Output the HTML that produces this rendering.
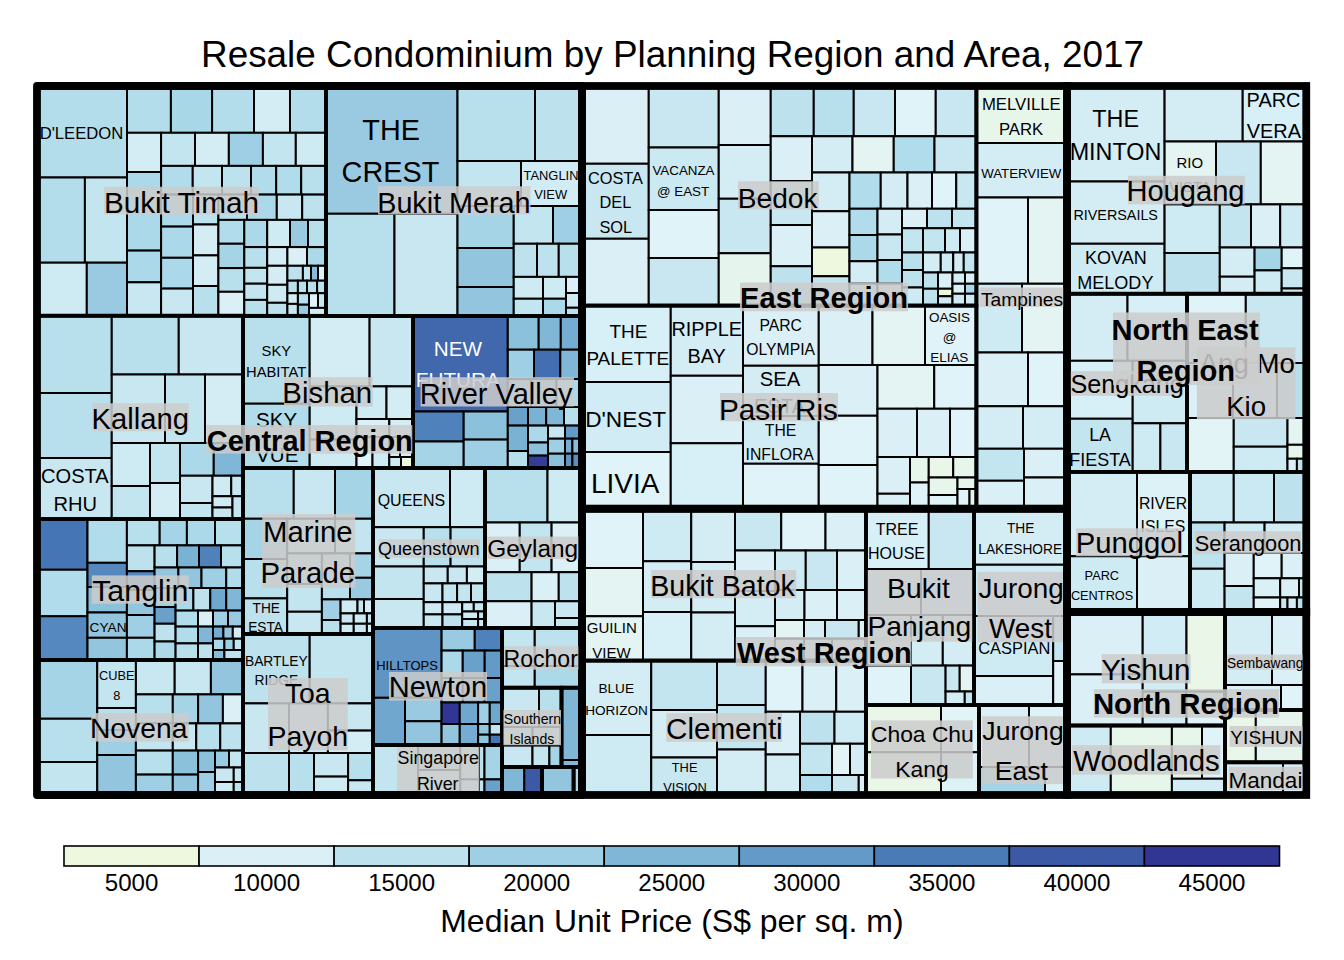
<!DOCTYPE html>
<html><head><meta charset="utf-8"><title>Resale Condominium by Planning Region and Area, 2017</title>
<style>html,body{margin:0;padding:0;background:#fff}body{width:1344px;height:960px;position:relative;overflow:hidden;font-family:"Liberation Sans",sans-serif}
svg text{font-family:"Liberation Sans",sans-serif}</style></head><body>
<svg width="1344" height="960" viewBox="0 0 1344 960" style="position:absolute;left:0;top:0">
<g stroke="#000" stroke-width="2">
<rect x="37.00" y="86.00" width="90.00" height="91.50" fill="#b4ddec"/>
<rect x="37.00" y="177.50" width="47.90" height="85.20" fill="#b4ddec"/>
<rect x="84.90" y="177.50" width="42.10" height="85.20" fill="#c3e5f0"/>
<rect x="37.00" y="262.70" width="49.80" height="53.10" fill="#ceeaf3"/>
<rect x="86.80" y="262.70" width="40.20" height="53.10" fill="#99cae1"/>
<rect x="127.00" y="86.00" width="43.90" height="46.80" fill="#b4ddec"/>
<rect x="170.90" y="86.00" width="41.20" height="46.80" fill="#a8d7e8"/>
<rect x="212.10" y="86.00" width="41.90" height="46.80" fill="#b4ddec"/>
<rect x="254.00" y="86.00" width="36.00" height="46.80" fill="#d4edf5"/>
<rect x="290.00" y="86.00" width="36.00" height="46.80" fill="#b4ddec"/>
<rect x="127.00" y="132.80" width="34.10" height="39.20" fill="#d4edf5"/>
<rect x="127.00" y="172.00" width="34.10" height="78.60" fill="#abd9e9"/>
<rect x="127.00" y="250.60" width="34.10" height="31.70" fill="#abd9e9"/>
<rect x="127.00" y="282.30" width="34.10" height="33.50" fill="#c8e7f1"/>
<rect x="161.10" y="132.80" width="33.90" height="33.10" fill="#c3e5f0"/>
<rect x="195.00" y="132.80" width="33.85" height="33.10" fill="#d4edf5"/>
<rect x="228.85" y="132.80" width="34.05" height="33.10" fill="#9fcfe4"/>
<rect x="262.90" y="132.80" width="32.90" height="33.10" fill="#c3e5f0"/>
<rect x="295.80" y="132.80" width="30.20" height="33.10" fill="#ceeaf3"/>
<rect x="161.10" y="165.90" width="31.65" height="28.70" fill="#b1dceb"/>
<rect x="192.75" y="165.90" width="29.25" height="28.70" fill="#c3e5f0"/>
<rect x="222.00" y="165.90" width="29.00" height="28.70" fill="#bde2ee"/>
<rect x="251.00" y="165.90" width="25.20" height="28.70" fill="#b1dceb"/>
<rect x="276.20" y="165.90" width="25.00" height="28.70" fill="#b1dceb"/>
<rect x="301.20" y="165.90" width="24.80" height="28.70" fill="#b7dfec"/>
<rect x="161.10" y="194.60" width="31.90" height="32.00" fill="#abd9e9"/>
<rect x="161.10" y="226.60" width="31.90" height="31.20" fill="#abd9e9"/>
<rect x="161.10" y="257.80" width="31.90" height="30.80" fill="#abd9e9"/>
<rect x="161.10" y="288.60" width="31.90" height="27.20" fill="#c8e7f1"/>
<rect x="193.00" y="194.60" width="25.40" height="29.90" fill="#bde2ee"/>
<rect x="193.00" y="224.50" width="25.40" height="30.90" fill="#d4edf5"/>
<rect x="193.00" y="255.40" width="25.40" height="30.60" fill="#d4edf5"/>
<rect x="193.00" y="286.00" width="25.40" height="29.80" fill="#b7dfec"/>
<rect x="218.40" y="194.60" width="28.60" height="25.30" fill="#b7dfec"/>
<rect x="247.00" y="194.60" width="29.80" height="25.30" fill="#abd9e9"/>
<rect x="276.80" y="194.60" width="25.40" height="25.30" fill="#c8e7f1"/>
<rect x="302.20" y="194.60" width="23.80" height="25.30" fill="#bde2ee"/>
<rect x="218.40" y="219.90" width="25.90" height="23.85" fill="#b1dceb"/>
<rect x="218.40" y="243.75" width="25.90" height="24.35" fill="#a5d4e6"/>
<rect x="218.40" y="268.10" width="25.90" height="23.70" fill="#b7dfec"/>
<rect x="218.40" y="291.80" width="25.90" height="24.00" fill="#daf0f6"/>
<rect x="244.30" y="219.90" width="22.90" height="27.20" fill="#abd9e9"/>
<rect x="267.20" y="219.90" width="22.80" height="27.20" fill="#ceeaf3"/>
<rect x="290.00" y="219.90" width="18.00" height="27.20" fill="#99cae1"/>
<rect x="308.00" y="219.90" width="18.00" height="27.20" fill="#b7dfec"/>
<rect x="244.30" y="247.10" width="22.90" height="20.75" fill="#b7dfec"/>
<rect x="244.30" y="267.85" width="22.90" height="15.85" fill="#c3e5f0"/>
<rect x="244.30" y="283.70" width="22.90" height="16.20" fill="#c3e5f0"/>
<rect x="244.30" y="299.90" width="22.90" height="15.90" fill="#b7dfec"/>
<rect x="267.20" y="247.10" width="20.20" height="18.70" fill="#d4edf5"/>
<rect x="267.20" y="265.80" width="20.20" height="19.00" fill="#d4edf5"/>
<rect x="267.20" y="284.80" width="20.20" height="18.00" fill="#ceeaf3"/>
<rect x="267.20" y="302.80" width="20.20" height="13.00" fill="#bde2ee"/>
<rect x="287.40" y="247.10" width="19.60" height="18.70" fill="#daf0f6"/>
<rect x="307.00" y="247.10" width="19.00" height="18.70" fill="#abd9e9"/>
<rect x="287.40" y="265.80" width="15.50" height="14.90" fill="#bde2ee"/>
<rect x="302.90" y="265.80" width="8.10" height="14.90" fill="#c3e5f0"/>
<rect x="311.00" y="265.80" width="7.00" height="14.90" fill="#86bcd9"/>
<rect x="318.00" y="265.80" width="8.00" height="14.90" fill="#e0f3f8"/>
<rect x="287.40" y="280.70" width="10.50" height="12.50" fill="#b7dfec"/>
<rect x="297.90" y="280.70" width="9.10" height="12.50" fill="#b7dfec"/>
<rect x="307.00" y="280.70" width="10.10" height="12.50" fill="#b7dfec"/>
<rect x="317.10" y="280.70" width="8.90" height="12.50" fill="#bde2ee"/>
<rect x="287.40" y="293.20" width="10.50" height="10.70" fill="#d4edf5"/>
<rect x="287.40" y="303.90" width="10.50" height="11.90" fill="#c8e7f1"/>
<rect x="297.90" y="293.20" width="11.10" height="11.50" fill="#b7dfec"/>
<rect x="297.90" y="304.70" width="11.10" height="11.10" fill="#99cae1"/>
<rect x="309.00" y="293.20" width="9.00" height="14.70" fill="#e0f3f8"/>
<rect x="318.00" y="293.20" width="8.00" height="14.70" fill="#c8e7f1"/>
<rect x="309.00" y="307.90" width="17.00" height="7.90" fill="#d4edf5"/>
<rect x="326.00" y="86.00" width="131.50" height="127.75" fill="#99cae1"/>
<rect x="326.00" y="213.75" width="68.50" height="102.25" fill="#b7dfec"/>
<rect x="394.50" y="213.75" width="63.00" height="102.25" fill="#c8e7f1"/>
<rect x="457.50" y="86.00" width="77.50" height="75.00" fill="#b7dfec"/>
<rect x="535.00" y="86.00" width="47.00" height="75.00" fill="#bde2ee"/>
<rect x="457.50" y="161.00" width="63.50" height="45.00" fill="#c3e5f0"/>
<rect x="521.00" y="161.00" width="61.00" height="45.00" fill="#d1ecf4"/>
<rect x="457.50" y="206.00" width="56.25" height="42.00" fill="#a5d4e6"/>
<rect x="457.50" y="248.00" width="56.25" height="39.00" fill="#93c5de"/>
<rect x="457.50" y="287.00" width="56.25" height="29.00" fill="#93c5de"/>
<rect x="513.75" y="206.00" width="39.25" height="37.75" fill="#c3e5f0"/>
<rect x="553.00" y="206.00" width="29.00" height="37.75" fill="#9fcfe4"/>
<rect x="513.75" y="243.75" width="23.25" height="33.15" fill="#bde2ee"/>
<rect x="537.00" y="243.75" width="21.75" height="33.15" fill="#bde2ee"/>
<rect x="558.75" y="243.75" width="23.25" height="33.15" fill="#b7dfec"/>
<rect x="513.75" y="276.90" width="29.25" height="21.85" fill="#ceeaf3"/>
<rect x="513.75" y="298.75" width="29.25" height="17.25" fill="#c3e5f0"/>
<rect x="543.00" y="276.90" width="23.00" height="21.85" fill="#ceeaf3"/>
<rect x="543.00" y="298.75" width="23.00" height="17.25" fill="#abd9e9"/>
<rect x="566.00" y="276.90" width="16.00" height="16.10" fill="#daf0f6"/>
<rect x="566.00" y="293.00" width="16.00" height="14.75" fill="#ceeaf3"/>
<rect x="566.00" y="307.75" width="16.00" height="8.25" fill="#b7dfec"/>
<rect x="37.00" y="315.70" width="74.75" height="77.30" fill="#b7dfec"/>
<rect x="37.00" y="393.00" width="74.75" height="65.00" fill="#b7dfec"/>
<rect x="37.00" y="458.00" width="74.75" height="61.00" fill="#c8e7f1"/>
<rect x="111.75" y="315.70" width="67.00" height="58.80" fill="#b7dfec"/>
<rect x="178.75" y="315.70" width="64.25" height="58.80" fill="#c8e7f1"/>
<rect x="111.75" y="374.50" width="53.25" height="68.50" fill="#c8e7f1"/>
<rect x="165.00" y="374.50" width="40.00" height="68.50" fill="#c3e5f0"/>
<rect x="205.00" y="374.50" width="38.00" height="68.50" fill="#d4edf5"/>
<rect x="111.75" y="443.00" width="38.25" height="43.00" fill="#ceeaf3"/>
<rect x="111.75" y="486.00" width="38.25" height="33.00" fill="#c3e5f0"/>
<rect x="150.00" y="443.00" width="30.00" height="40.00" fill="#c3e5f0"/>
<rect x="150.00" y="483.00" width="30.00" height="36.00" fill="#d4edf5"/>
<rect x="180.00" y="443.00" width="33.75" height="32.75" fill="#abd9e9"/>
<rect x="213.75" y="443.00" width="29.25" height="32.75" fill="#80b7d6"/>
<rect x="180.00" y="475.75" width="32.50" height="27.25" fill="#c8e7f1"/>
<rect x="180.00" y="503.00" width="32.50" height="16.00" fill="#c3e5f0"/>
<rect x="212.50" y="475.75" width="18.75" height="20.50" fill="#ceeaf3"/>
<rect x="231.25" y="475.75" width="11.75" height="20.50" fill="#c8e7f1"/>
<rect x="212.50" y="496.25" width="20.00" height="11.25" fill="#ceeaf3"/>
<rect x="212.50" y="507.50" width="20.00" height="11.50" fill="#c8e7f1"/>
<rect x="232.50" y="496.25" width="10.50" height="22.75" fill="#c3e5f0"/>
<rect x="243.00" y="316.00" width="66.70" height="87.70" fill="#b7dfec"/>
<rect x="243.00" y="403.70" width="66.70" height="64.30" fill="#b1dceb"/>
<rect x="309.70" y="316.00" width="59.90" height="70.40" fill="#d4edf5"/>
<rect x="369.60" y="316.00" width="43.40" height="70.40" fill="#c8e7f1"/>
<rect x="309.70" y="386.40" width="46.80" height="53.20" fill="#ceeaf3"/>
<rect x="309.70" y="439.60" width="46.80" height="28.40" fill="#ceeaf3"/>
<rect x="356.50" y="386.40" width="30.00" height="32.60" fill="#ceeaf3"/>
<rect x="386.50" y="386.40" width="26.50" height="32.60" fill="#d4edf5"/>
<rect x="356.50" y="419.00" width="32.80" height="18.00" fill="#daf0f6"/>
<rect x="389.30" y="419.00" width="23.70" height="18.00" fill="#d4edf5"/>
<rect x="356.50" y="437.00" width="16.00" height="31.00" fill="#e0f3f8"/>
<rect x="372.50" y="437.00" width="16.80" height="31.00" fill="#ceeaf3"/>
<rect x="389.30" y="437.00" width="10.70" height="20.00" fill="#ceeaf3"/>
<rect x="400.00" y="437.00" width="13.00" height="20.00" fill="#d4edf5"/>
<rect x="389.30" y="457.00" width="11.70" height="11.00" fill="#ceeaf3"/>
<rect x="401.00" y="457.00" width="12.00" height="11.00" fill="#eef8df"/>
<rect x="413.00" y="316.00" width="94.80" height="95.50" fill="#4167ad"/>
<rect x="413.00" y="411.50" width="50.70" height="30.00" fill="#4f81ba"/>
<rect x="413.00" y="441.50" width="50.70" height="26.50" fill="#a5d4e6"/>
<rect x="463.70" y="411.50" width="44.10" height="28.10" fill="#8cc1dc"/>
<rect x="463.70" y="439.60" width="44.10" height="28.40" fill="#9fcfe4"/>
<rect x="507.80" y="316.00" width="30.90" height="33.70" fill="#8cc1dc"/>
<rect x="538.70" y="316.00" width="22.10" height="33.70" fill="#80b7d6"/>
<rect x="560.80" y="316.00" width="21.20" height="33.70" fill="#74add1"/>
<rect x="507.80" y="349.70" width="26.20" height="29.30" fill="#9fcfe4"/>
<rect x="534.00" y="349.70" width="26.30" height="29.30" fill="#436eb1"/>
<rect x="560.30" y="349.70" width="21.70" height="29.30" fill="#80b7d6"/>
<rect x="507.80" y="379.00" width="23.20" height="28.00" fill="#93c5de"/>
<rect x="531.00" y="379.00" width="25.50" height="28.00" fill="#86bcd9"/>
<rect x="556.50" y="379.00" width="25.50" height="28.00" fill="#abd9e9"/>
<rect x="507.80" y="407.00" width="20.20" height="18.60" fill="#6aa1cb"/>
<rect x="528.00" y="407.00" width="18.20" height="18.60" fill="#7ab2d4"/>
<rect x="546.20" y="407.00" width="17.80" height="18.60" fill="#80b7d6"/>
<rect x="564.00" y="407.00" width="18.00" height="18.60" fill="#b7dfec"/>
<rect x="507.80" y="425.60" width="20.20" height="25.40" fill="#7ab2d4"/>
<rect x="507.80" y="451.00" width="20.20" height="17.00" fill="#b7dfec"/>
<rect x="528.00" y="425.60" width="20.00" height="16.90" fill="#abd9e9"/>
<rect x="528.00" y="442.50" width="20.00" height="13.10" fill="#8cc1dc"/>
<rect x="528.00" y="455.60" width="20.00" height="12.40" fill="#333d98"/>
<rect x="548.00" y="425.60" width="17.00" height="13.10" fill="#c8e7f1"/>
<rect x="548.00" y="438.70" width="17.00" height="15.00" fill="#9fcfe4"/>
<rect x="548.00" y="453.70" width="17.00" height="14.30" fill="#8cc1dc"/>
<rect x="565.00" y="425.60" width="17.00" height="13.10" fill="#649ac7"/>
<rect x="565.00" y="438.70" width="7.40" height="15.00" fill="#74add1"/>
<rect x="572.40" y="438.70" width="9.60" height="15.00" fill="#86bcd9"/>
<rect x="565.00" y="453.70" width="7.40" height="14.30" fill="#5f94c4"/>
<rect x="572.40" y="453.70" width="9.60" height="14.30" fill="#5a8ec1"/>
<rect x="37.00" y="519.00" width="50.50" height="50.75" fill="#4575b4"/>
<rect x="37.00" y="569.75" width="50.50" height="46.50" fill="#b1dceb"/>
<rect x="37.00" y="616.25" width="50.50" height="43.75" fill="#5588be"/>
<rect x="87.50" y="519.00" width="39.40" height="43.80" fill="#b1dceb"/>
<rect x="87.50" y="562.80" width="39.40" height="24.20" fill="#5588be"/>
<rect x="87.50" y="587.00" width="39.40" height="25.50" fill="#8cc1dc"/>
<rect x="87.50" y="612.50" width="39.40" height="25.30" fill="#93c5de"/>
<rect x="87.50" y="637.80" width="39.40" height="22.20" fill="#93c5de"/>
<rect x="126.90" y="519.00" width="32.80" height="26.40" fill="#b7dfec"/>
<rect x="159.70" y="519.00" width="27.20" height="26.40" fill="#a5d4e6"/>
<rect x="186.90" y="519.00" width="28.10" height="26.40" fill="#abd9e9"/>
<rect x="215.00" y="519.00" width="28.00" height="26.40" fill="#b7dfec"/>
<rect x="126.90" y="545.40" width="27.70" height="25.85" fill="#bde2ee"/>
<rect x="126.90" y="571.25" width="27.70" height="18.75" fill="#5588be"/>
<rect x="126.90" y="590.00" width="27.70" height="25.00" fill="#93c5de"/>
<rect x="126.90" y="615.00" width="27.70" height="22.80" fill="#9fcfe4"/>
<rect x="126.90" y="637.80" width="27.70" height="22.20" fill="#abd9e9"/>
<rect x="154.60" y="545.40" width="22.50" height="22.10" fill="#b7dfec"/>
<rect x="177.10" y="545.40" width="21.90" height="22.10" fill="#7ab2d4"/>
<rect x="199.00" y="545.40" width="22.00" height="22.10" fill="#4f81ba"/>
<rect x="221.00" y="545.40" width="22.00" height="22.10" fill="#b7dfec"/>
<rect x="154.60" y="567.50" width="23.80" height="20.50" fill="#93c5de"/>
<rect x="178.40" y="567.50" width="23.10" height="20.50" fill="#93c5de"/>
<rect x="201.50" y="567.50" width="24.75" height="20.50" fill="#9fcfe4"/>
<rect x="226.25" y="567.50" width="16.75" height="20.50" fill="#b1dceb"/>
<rect x="154.60" y="588.00" width="21.00" height="19.00" fill="#9fcfe4"/>
<rect x="154.60" y="607.00" width="21.00" height="16.75" fill="#6aa1cb"/>
<rect x="154.60" y="623.75" width="21.00" height="17.75" fill="#bde2ee"/>
<rect x="154.60" y="641.50" width="21.00" height="18.50" fill="#abd9e9"/>
<rect x="175.60" y="588.00" width="17.80" height="22.60" fill="#abd9e9"/>
<rect x="193.40" y="588.00" width="16.90" height="22.60" fill="#bde2ee"/>
<rect x="210.30" y="588.00" width="15.95" height="22.60" fill="#6fa7ce"/>
<rect x="226.25" y="588.00" width="16.75" height="22.60" fill="#80b7d6"/>
<rect x="175.60" y="610.60" width="22.40" height="16.00" fill="#b1dceb"/>
<rect x="198.00" y="610.60" width="15.00" height="16.00" fill="#daf0f6"/>
<rect x="213.00" y="610.60" width="15.00" height="16.00" fill="#9fcfe4"/>
<rect x="228.00" y="610.60" width="15.00" height="16.00" fill="#99cae1"/>
<rect x="175.60" y="626.60" width="22.40" height="16.80" fill="#b1dceb"/>
<rect x="175.60" y="643.40" width="22.40" height="16.60" fill="#b7dfec"/>
<rect x="198.00" y="626.60" width="15.00" height="16.80" fill="#80b7d6"/>
<rect x="198.00" y="643.40" width="15.00" height="16.60" fill="#bde2ee"/>
<rect x="213.00" y="626.60" width="10.40" height="12.15" fill="#74add1"/>
<rect x="223.40" y="626.60" width="9.40" height="12.15" fill="#93c5de"/>
<rect x="232.80" y="626.60" width="10.20" height="12.15" fill="#d4edf5"/>
<rect x="213.00" y="638.75" width="11.40" height="11.25" fill="#abd9e9"/>
<rect x="224.40" y="638.75" width="9.35" height="11.25" fill="#9fcfe4"/>
<rect x="233.75" y="638.75" width="9.25" height="11.25" fill="#c3e5f0"/>
<rect x="213.00" y="650.00" width="11.40" height="10.00" fill="#86bcd9"/>
<rect x="224.40" y="650.00" width="18.60" height="10.00" fill="#bde2ee"/>
<rect x="37.00" y="660.00" width="60.25" height="58.75" fill="#a5d4e6"/>
<rect x="37.00" y="718.75" width="60.25" height="43.25" fill="#b7dfec"/>
<rect x="37.00" y="762.00" width="60.25" height="33.00" fill="#c3e5f0"/>
<rect x="97.25" y="660.00" width="38.65" height="48.00" fill="#c3e5f0"/>
<rect x="97.25" y="708.00" width="38.65" height="22.00" fill="#b7dfec"/>
<rect x="97.25" y="730.00" width="38.65" height="25.00" fill="#9fcfe4"/>
<rect x="97.25" y="755.00" width="38.65" height="40.00" fill="#93c5de"/>
<rect x="135.90" y="660.00" width="38.80" height="34.40" fill="#c8e7f1"/>
<rect x="174.70" y="660.00" width="36.20" height="34.40" fill="#c8e7f1"/>
<rect x="210.90" y="660.00" width="32.10" height="34.40" fill="#93c5de"/>
<rect x="135.90" y="694.40" width="36.90" height="29.00" fill="#b7dfec"/>
<rect x="172.80" y="694.40" width="25.30" height="29.00" fill="#a5d4e6"/>
<rect x="198.10" y="694.40" width="24.80" height="29.00" fill="#93c5de"/>
<rect x="222.90" y="694.40" width="20.10" height="29.00" fill="#daf0f6"/>
<rect x="135.90" y="723.40" width="36.90" height="27.20" fill="#c3e5f0"/>
<rect x="172.80" y="723.40" width="23.45" height="27.20" fill="#c8e7f1"/>
<rect x="196.25" y="723.40" width="24.00" height="27.20" fill="#b7dfec"/>
<rect x="220.25" y="723.40" width="22.75" height="27.20" fill="#bde2ee"/>
<rect x="135.90" y="750.60" width="36.90" height="24.00" fill="#b7dfec"/>
<rect x="135.90" y="774.60" width="36.90" height="20.40" fill="#9fcfe4"/>
<rect x="172.80" y="750.60" width="25.30" height="24.00" fill="#8cc1dc"/>
<rect x="172.80" y="774.60" width="25.30" height="20.40" fill="#93c5de"/>
<rect x="198.10" y="750.60" width="16.90" height="21.40" fill="#8cc1dc"/>
<rect x="198.10" y="772.00" width="16.90" height="23.00" fill="#9fcfe4"/>
<rect x="215.00" y="750.60" width="14.00" height="16.90" fill="#99cae1"/>
<rect x="229.00" y="750.60" width="14.00" height="16.90" fill="#c3e5f0"/>
<rect x="215.00" y="767.50" width="18.75" height="14.50" fill="#c8e7f1"/>
<rect x="233.75" y="767.50" width="9.25" height="14.50" fill="#c8e7f1"/>
<rect x="215.00" y="782.00" width="18.75" height="13.00" fill="#ceeaf3"/>
<rect x="233.75" y="782.00" width="9.25" height="13.00" fill="#bde2ee"/>
<rect x="243.00" y="468.00" width="50.75" height="50.75" fill="#b7dfec"/>
<rect x="293.75" y="468.00" width="41.25" height="50.75" fill="#c8e7f1"/>
<rect x="335.00" y="468.00" width="38.00" height="50.75" fill="#a5d4e6"/>
<rect x="243.00" y="518.75" width="44.20" height="40.25" fill="#a5d4e6"/>
<rect x="243.00" y="559.00" width="44.20" height="39.40" fill="#b7dfec"/>
<rect x="243.00" y="598.40" width="44.20" height="35.60" fill="#bde2ee"/>
<rect x="287.20" y="518.75" width="47.80" height="34.65" fill="#c3e5f0"/>
<rect x="335.00" y="518.75" width="38.00" height="34.65" fill="#c3e5f0"/>
<rect x="287.20" y="553.40" width="34.70" height="30.60" fill="#bde2ee"/>
<rect x="287.20" y="584.00" width="34.70" height="27.75" fill="#c3e5f0"/>
<rect x="287.20" y="611.75" width="34.70" height="22.25" fill="#c8e7f1"/>
<rect x="321.90" y="553.40" width="28.10" height="46.00" fill="#b7dfec"/>
<rect x="350.00" y="553.40" width="23.00" height="24.40" fill="#a5d4e6"/>
<rect x="350.00" y="577.80" width="23.00" height="21.60" fill="#99cae1"/>
<rect x="321.90" y="599.40" width="18.70" height="20.60" fill="#9fcfe4"/>
<rect x="321.90" y="620.00" width="18.70" height="14.00" fill="#b7dfec"/>
<rect x="340.60" y="599.40" width="16.90" height="14.00" fill="#ceeaf3"/>
<rect x="357.50" y="599.40" width="6.50" height="14.00" fill="#c3e5f0"/>
<rect x="364.00" y="599.40" width="9.00" height="14.00" fill="#d4edf5"/>
<rect x="340.60" y="613.40" width="13.15" height="10.35" fill="#c8e7f1"/>
<rect x="353.75" y="613.40" width="13.15" height="10.35" fill="#ceeaf3"/>
<rect x="366.90" y="613.40" width="6.10" height="10.35" fill="#c3e5f0"/>
<rect x="340.60" y="623.75" width="13.15" height="10.25" fill="#ceeaf3"/>
<rect x="353.75" y="623.75" width="13.15" height="10.25" fill="#c8e7f1"/>
<rect x="366.90" y="623.75" width="6.10" height="10.25" fill="#d4edf5"/>
<rect x="373.00" y="468.00" width="77.00" height="59.20" fill="#c8e7f1"/>
<rect x="450.00" y="468.00" width="35.00" height="59.20" fill="#ceeaf3"/>
<rect x="373.00" y="527.20" width="50.75" height="39.30" fill="#c8e7f1"/>
<rect x="423.75" y="527.20" width="26.85" height="39.30" fill="#b7dfec"/>
<rect x="450.60" y="527.20" width="34.40" height="39.30" fill="#bde2ee"/>
<rect x="373.00" y="566.50" width="50.75" height="32.50" fill="#c3e5f0"/>
<rect x="373.00" y="599.00" width="50.75" height="29.00" fill="#c8e7f1"/>
<rect x="423.75" y="566.50" width="24.00" height="16.90" fill="#c8e7f1"/>
<rect x="447.75" y="566.50" width="19.15" height="16.90" fill="#c8e7f1"/>
<rect x="466.90" y="566.50" width="18.10" height="16.90" fill="#d4edf5"/>
<rect x="423.75" y="583.40" width="18.75" height="18.80" fill="#c8e7f1"/>
<rect x="442.50" y="583.40" width="14.60" height="18.80" fill="#c3e5f0"/>
<rect x="457.10" y="583.40" width="13.90" height="18.80" fill="#c3e5f0"/>
<rect x="471.00" y="583.40" width="14.00" height="18.80" fill="#c3e5f0"/>
<rect x="423.75" y="602.20" width="18.75" height="12.20" fill="#ceeaf3"/>
<rect x="423.75" y="614.40" width="18.75" height="13.60" fill="#c8e7f1"/>
<rect x="442.50" y="602.20" width="19.70" height="12.20" fill="#ceeaf3"/>
<rect x="442.50" y="614.40" width="19.70" height="13.60" fill="#bde2ee"/>
<rect x="462.20" y="602.20" width="11.60" height="9.30" fill="#ceeaf3"/>
<rect x="473.80" y="602.20" width="11.20" height="9.30" fill="#c8e7f1"/>
<rect x="462.20" y="611.50" width="15.90" height="7.50" fill="#ceeaf3"/>
<rect x="478.10" y="611.50" width="6.90" height="7.50" fill="#c3e5f0"/>
<rect x="462.20" y="619.00" width="15.90" height="9.00" fill="#c8e7f1"/>
<rect x="478.10" y="619.00" width="6.90" height="9.00" fill="#ceeaf3"/>
<rect x="485.00" y="468.00" width="62.50" height="54.50" fill="#b7dfec"/>
<rect x="547.50" y="468.00" width="34.50" height="54.50" fill="#ceeaf3"/>
<rect x="485.00" y="522.50" width="34.75" height="49.70" fill="#daf0f6"/>
<rect x="519.75" y="522.50" width="31.85" height="49.70" fill="#c3e5f0"/>
<rect x="551.60" y="522.50" width="30.40" height="49.70" fill="#daf0f6"/>
<rect x="485.00" y="572.20" width="46.60" height="29.05" fill="#bde2ee"/>
<rect x="531.60" y="572.20" width="27.15" height="29.05" fill="#daf0f6"/>
<rect x="558.75" y="572.20" width="23.25" height="29.05" fill="#bde2ee"/>
<rect x="485.00" y="601.25" width="46.60" height="26.75" fill="#daf0f6"/>
<rect x="531.60" y="601.25" width="23.40" height="26.75" fill="#c8e7f1"/>
<rect x="555.00" y="601.25" width="27.00" height="16.75" fill="#c8e7f1"/>
<rect x="555.00" y="618.00" width="27.00" height="10.00" fill="#c8e7f1"/>
<rect x="243.00" y="634.00" width="66.70" height="69.40" fill="#bde2ee"/>
<rect x="309.70" y="634.00" width="63.30" height="69.40" fill="#c3e5f0"/>
<rect x="243.00" y="703.40" width="46.00" height="49.60" fill="#c8e7f1"/>
<rect x="289.00" y="703.40" width="38.90" height="49.60" fill="#ceeaf3"/>
<rect x="327.90" y="703.40" width="45.10" height="27.20" fill="#c8e7f1"/>
<rect x="327.90" y="730.60" width="45.10" height="22.40" fill="#d4edf5"/>
<rect x="243.00" y="753.00" width="46.00" height="42.00" fill="#bde2ee"/>
<rect x="289.00" y="753.00" width="25.00" height="42.00" fill="#b7dfec"/>
<rect x="314.00" y="753.00" width="34.10" height="23.60" fill="#c8e7f1"/>
<rect x="314.00" y="776.60" width="34.10" height="18.40" fill="#ceeaf3"/>
<rect x="348.10" y="753.00" width="24.90" height="27.30" fill="#b7dfec"/>
<rect x="348.10" y="780.30" width="24.90" height="14.70" fill="#c8e7f1"/>
<rect x="373.00" y="628.00" width="68.60" height="69.80" fill="#5f94c4"/>
<rect x="373.00" y="697.80" width="32.00" height="47.20" fill="#6fa7ce"/>
<rect x="405.00" y="697.80" width="36.60" height="23.45" fill="#99cae1"/>
<rect x="405.00" y="721.25" width="36.60" height="23.75" fill="#93c5de"/>
<rect x="441.60" y="628.00" width="33.15" height="22.60" fill="#99cae1"/>
<rect x="474.75" y="628.00" width="27.25" height="22.60" fill="#4f81ba"/>
<rect x="441.60" y="650.60" width="21.15" height="27.40" fill="#abd9e9"/>
<rect x="462.75" y="650.60" width="21.95" height="27.40" fill="#6aa1cb"/>
<rect x="484.70" y="650.60" width="17.30" height="27.40" fill="#649ac7"/>
<rect x="441.60" y="678.00" width="21.15" height="24.50" fill="#93c5de"/>
<rect x="462.75" y="678.00" width="21.95" height="24.50" fill="#6fa7ce"/>
<rect x="484.70" y="678.00" width="17.30" height="24.50" fill="#6aa1cb"/>
<rect x="441.60" y="702.50" width="18.15" height="21.50" fill="#313695"/>
<rect x="441.60" y="724.00" width="18.15" height="21.00" fill="#93c5de"/>
<rect x="459.75" y="702.50" width="18.35" height="21.50" fill="#6fa7ce"/>
<rect x="459.75" y="724.00" width="18.35" height="21.00" fill="#74add1"/>
<rect x="478.10" y="702.50" width="11.65" height="21.50" fill="#9fcfe4"/>
<rect x="478.10" y="724.00" width="11.65" height="10.70" fill="#93c5de"/>
<rect x="478.10" y="734.70" width="11.65" height="10.30" fill="#93c5de"/>
<rect x="489.75" y="702.50" width="12.25" height="21.50" fill="#6fa7ce"/>
<rect x="489.75" y="724.00" width="12.25" height="10.70" fill="#c3e5f0"/>
<rect x="489.75" y="734.70" width="12.25" height="10.30" fill="#4575b4"/>
<rect x="373.00" y="745.00" width="45.10" height="50.00" fill="#c3e5f0"/>
<rect x="418.10" y="745.00" width="42.20" height="25.00" fill="#bde2ee"/>
<rect x="418.10" y="770.00" width="42.20" height="25.00" fill="#c3e5f0"/>
<rect x="460.30" y="745.00" width="18.70" height="34.40" fill="#c3e5f0"/>
<rect x="460.30" y="779.40" width="18.70" height="15.60" fill="#bde2ee"/>
<rect x="479.00" y="745.00" width="5.50" height="34.40" fill="#bde2ee"/>
<rect x="479.00" y="779.40" width="5.50" height="15.60" fill="#c3e5f0"/>
<rect x="484.50" y="745.00" width="17.50" height="34.40" fill="#a5d4e6"/>
<rect x="484.50" y="779.40" width="17.50" height="15.60" fill="#6aa1cb"/>
<rect x="502.00" y="628.00" width="32.75" height="38.00" fill="#c3e5f0"/>
<rect x="502.00" y="666.00" width="32.75" height="21.70" fill="#c3e5f0"/>
<rect x="534.75" y="628.00" width="47.25" height="38.00" fill="#bde2ee"/>
<rect x="534.75" y="666.00" width="47.25" height="21.70" fill="#abd9e9"/>
<rect x="502.00" y="687.70" width="37.00" height="39.30" fill="#c8e7f1"/>
<rect x="539.00" y="687.70" width="22.50" height="39.30" fill="#b7dfec"/>
<rect x="502.00" y="727.00" width="30.50" height="18.60" fill="#c3e5f0"/>
<rect x="532.50" y="727.00" width="29.00" height="18.60" fill="#bde2ee"/>
<rect x="502.00" y="745.60" width="30.50" height="21.40" fill="#c8e7f1"/>
<rect x="532.50" y="745.60" width="16.90" height="21.40" fill="#c3e5f0"/>
<rect x="549.40" y="745.60" width="12.10" height="21.40" fill="#a5d4e6"/>
<rect x="561.50" y="687.70" width="20.50" height="72.30" fill="#80b7d6"/>
<rect x="561.50" y="760.00" width="20.50" height="7.00" fill="#80b7d6"/>
<rect x="502.00" y="767.00" width="22.30" height="28.00" fill="#80b7d6"/>
<rect x="524.30" y="767.00" width="17.70" height="28.00" fill="#3c59a6"/>
<rect x="542.00" y="767.00" width="31.60" height="28.00" fill="#93c5de"/>
<rect x="573.60" y="767.00" width="8.40" height="28.00" fill="#abd9e9"/>
<rect x="582.00" y="86.00" width="66.75" height="77.75" fill="#daf0f6"/>
<rect x="582.00" y="163.75" width="66.75" height="75.00" fill="#c8e7f1"/>
<rect x="582.00" y="238.75" width="66.75" height="66.85" fill="#daf0f6"/>
<rect x="648.75" y="86.00" width="70.00" height="61.50" fill="#c8e7f1"/>
<rect x="648.75" y="147.50" width="70.00" height="62.50" fill="#cbe9f2"/>
<rect x="648.75" y="210.00" width="70.00" height="48.00" fill="#e0f3f8"/>
<rect x="648.75" y="258.00" width="70.00" height="47.60" fill="#c8e7f1"/>
<rect x="718.75" y="86.00" width="52.00" height="59.00" fill="#daf0f6"/>
<rect x="718.75" y="145.00" width="52.00" height="53.75" fill="#d4edf5"/>
<rect x="718.75" y="198.75" width="52.00" height="54.50" fill="#c8e7f1"/>
<rect x="718.75" y="253.25" width="52.00" height="52.35" fill="#e5f5ee"/>
<rect x="770.75" y="86.00" width="43.00" height="50.25" fill="#bde2ee"/>
<rect x="813.75" y="86.00" width="40.00" height="50.25" fill="#b7dfec"/>
<rect x="853.75" y="86.00" width="41.25" height="50.25" fill="#c8e7f1"/>
<rect x="895.00" y="86.00" width="40.75" height="50.25" fill="#e0f3f8"/>
<rect x="935.75" y="86.00" width="40.65" height="50.25" fill="#c8e7f1"/>
<rect x="770.75" y="136.25" width="41.25" height="44.75" fill="#daf0f6"/>
<rect x="770.75" y="181.00" width="41.25" height="44.00" fill="#c8e7f1"/>
<rect x="770.75" y="225.00" width="41.25" height="41.25" fill="#daf0f6"/>
<rect x="770.75" y="266.25" width="41.25" height="39.35" fill="#bde2ee"/>
<rect x="812.00" y="136.25" width="40.50" height="36.25" fill="#d4edf5"/>
<rect x="852.50" y="136.25" width="41.25" height="36.25" fill="#e3f4f2"/>
<rect x="893.75" y="136.25" width="40.75" height="36.25" fill="#b1dceb"/>
<rect x="934.50" y="136.25" width="41.90" height="36.25" fill="#c8e7f1"/>
<rect x="812.00" y="172.50" width="37.50" height="38.75" fill="#d4edf5"/>
<rect x="812.00" y="211.25" width="37.50" height="36.25" fill="#daf0f6"/>
<rect x="812.00" y="247.50" width="37.50" height="28.75" fill="#eef8df"/>
<rect x="812.00" y="276.25" width="37.50" height="29.35" fill="#c3e5f0"/>
<rect x="849.50" y="172.50" width="31.25" height="36.25" fill="#b1dceb"/>
<rect x="880.75" y="172.50" width="26.75" height="36.25" fill="#d4edf5"/>
<rect x="907.50" y="172.50" width="24.50" height="36.25" fill="#daf0f6"/>
<rect x="932.00" y="172.50" width="24.25" height="36.25" fill="#e0f3f8"/>
<rect x="956.25" y="172.50" width="20.15" height="36.25" fill="#c8e7f1"/>
<rect x="849.50" y="208.75" width="28.00" height="26.25" fill="#b1dceb"/>
<rect x="849.50" y="235.00" width="28.00" height="26.25" fill="#abd9e9"/>
<rect x="849.50" y="261.25" width="28.00" height="22.50" fill="#d4edf5"/>
<rect x="849.50" y="283.75" width="28.00" height="21.85" fill="#c8e7f1"/>
<rect x="877.50" y="208.75" width="24.50" height="25.75" fill="#d4edf5"/>
<rect x="877.50" y="234.50" width="24.50" height="25.50" fill="#c8e7f1"/>
<rect x="877.50" y="260.00" width="24.50" height="23.75" fill="#b1dceb"/>
<rect x="877.50" y="283.75" width="24.50" height="21.85" fill="#ceeaf3"/>
<rect x="902.00" y="208.75" width="25.00" height="19.50" fill="#daf0f6"/>
<rect x="927.00" y="208.75" width="25.00" height="19.50" fill="#bde2ee"/>
<rect x="952.00" y="208.75" width="24.40" height="19.50" fill="#c3e5f0"/>
<rect x="902.00" y="228.25" width="21.00" height="24.25" fill="#c3e5f0"/>
<rect x="923.00" y="228.25" width="22.00" height="24.25" fill="#c3e5f0"/>
<rect x="945.00" y="228.25" width="15.00" height="24.25" fill="#ceeaf3"/>
<rect x="960.00" y="228.25" width="16.40" height="24.25" fill="#daf0f6"/>
<rect x="902.00" y="252.50" width="21.00" height="17.50" fill="#b7dfec"/>
<rect x="902.00" y="270.00" width="21.00" height="17.50" fill="#bde2ee"/>
<rect x="902.00" y="287.50" width="21.00" height="18.10" fill="#ceeaf3"/>
<rect x="923.00" y="252.50" width="17.75" height="20.00" fill="#d4edf5"/>
<rect x="940.75" y="252.50" width="12.50" height="20.00" fill="#ceeaf3"/>
<rect x="953.25" y="252.50" width="10.50" height="20.00" fill="#d4edf5"/>
<rect x="963.75" y="252.50" width="12.65" height="20.00" fill="#c3e5f0"/>
<rect x="923.00" y="272.50" width="15.00" height="16.25" fill="#bde2ee"/>
<rect x="923.00" y="288.75" width="15.00" height="16.85" fill="#bde2ee"/>
<rect x="938.00" y="272.50" width="14.50" height="16.25" fill="#daf0f6"/>
<rect x="938.00" y="288.75" width="14.50" height="7.50" fill="#eef8df"/>
<rect x="938.00" y="296.25" width="14.50" height="9.35" fill="#ceeaf3"/>
<rect x="952.50" y="272.50" width="12.50" height="11.25" fill="#d4edf5"/>
<rect x="952.50" y="283.75" width="12.50" height="10.00" fill="#daf0f6"/>
<rect x="952.50" y="293.75" width="12.50" height="11.85" fill="#ceeaf3"/>
<rect x="965.00" y="272.50" width="11.40" height="11.25" fill="#daf0f6"/>
<rect x="965.00" y="283.75" width="11.40" height="10.00" fill="#abd9e9"/>
<rect x="965.00" y="293.75" width="11.40" height="11.85" fill="#ceeaf3"/>
<rect x="976.40" y="86.00" width="90.60" height="57.00" fill="#e7f6eb"/>
<rect x="976.40" y="143.00" width="90.60" height="54.50" fill="#d4edf5"/>
<rect x="976.40" y="197.50" width="51.60" height="86.25" fill="#e0f3f8"/>
<rect x="1028.00" y="197.50" width="39.00" height="86.25" fill="#e3f4f2"/>
<rect x="976.40" y="283.75" width="45.60" height="68.75" fill="#ceeaf3"/>
<rect x="1022.00" y="283.75" width="45.00" height="68.75" fill="#e3f4f2"/>
<rect x="976.40" y="352.50" width="51.60" height="53.75" fill="#daf0f6"/>
<rect x="1028.00" y="352.50" width="39.00" height="53.75" fill="#e0f3f8"/>
<rect x="976.40" y="406.25" width="46.60" height="42.50" fill="#d4edf5"/>
<rect x="1023.00" y="406.25" width="44.00" height="42.50" fill="#d4edf5"/>
<rect x="976.40" y="448.75" width="47.60" height="32.00" fill="#c3e5f0"/>
<rect x="976.40" y="480.75" width="47.60" height="28.00" fill="#daf0f6"/>
<rect x="1024.00" y="448.75" width="43.00" height="28.75" fill="#daf0f6"/>
<rect x="1024.00" y="477.50" width="43.00" height="31.25" fill="#daf0f6"/>
<rect x="582.00" y="305.60" width="88.75" height="76.40" fill="#d7eff6"/>
<rect x="582.00" y="382.00" width="88.75" height="70.00" fill="#d1ecf4"/>
<rect x="582.00" y="452.00" width="88.75" height="56.75" fill="#e0f3f8"/>
<rect x="670.75" y="305.60" width="72.25" height="70.15" fill="#d4edf5"/>
<rect x="670.75" y="375.75" width="72.25" height="67.50" fill="#daf0f6"/>
<rect x="670.75" y="443.25" width="72.25" height="65.50" fill="#d7eff6"/>
<rect x="743.00" y="305.60" width="75.75" height="60.15" fill="#daf0f6"/>
<rect x="743.00" y="365.75" width="75.75" height="50.25" fill="#d4edf5"/>
<rect x="743.00" y="416.00" width="75.75" height="47.75" fill="#d1ecf4"/>
<rect x="743.00" y="463.75" width="75.75" height="45.00" fill="#e0f3f8"/>
<rect x="818.75" y="305.60" width="53.75" height="59.40" fill="#daf0f6"/>
<rect x="872.50" y="305.60" width="52.50" height="59.40" fill="#e3f4f2"/>
<rect x="925.00" y="305.60" width="51.40" height="59.40" fill="#e0f3f8"/>
<rect x="818.75" y="365.00" width="58.75" height="50.75" fill="#daf0f6"/>
<rect x="818.75" y="415.75" width="58.75" height="49.25" fill="#e0f3f8"/>
<rect x="818.75" y="465.00" width="58.75" height="43.75" fill="#e0f3f8"/>
<rect x="877.50" y="365.00" width="56.75" height="43.75" fill="#e3f4f2"/>
<rect x="934.25" y="365.00" width="42.15" height="43.75" fill="#e0f3f8"/>
<rect x="877.50" y="408.75" width="39.50" height="48.25" fill="#daf0f6"/>
<rect x="917.00" y="408.75" width="33.00" height="48.25" fill="#daf0f6"/>
<rect x="950.00" y="408.75" width="26.40" height="48.25" fill="#e0f3f8"/>
<rect x="877.50" y="457.00" width="32.50" height="36.75" fill="#daf0f6"/>
<rect x="877.50" y="493.75" width="32.50" height="15.00" fill="#daf0f6"/>
<rect x="910.00" y="457.00" width="18.75" height="25.50" fill="#e7f6eb"/>
<rect x="910.00" y="482.50" width="18.75" height="26.25" fill="#e0f3f8"/>
<rect x="928.75" y="457.00" width="24.50" height="20.50" fill="#e9f6e8"/>
<rect x="953.25" y="457.00" width="23.15" height="20.50" fill="#e7f6eb"/>
<rect x="928.75" y="477.50" width="28.75" height="17.50" fill="#e7f6eb"/>
<rect x="928.75" y="495.00" width="28.75" height="13.75" fill="#e0f3f8"/>
<rect x="957.50" y="477.50" width="18.90" height="11.50" fill="#e7f6eb"/>
<rect x="957.50" y="489.00" width="12.00" height="19.75" fill="#e0f3f8"/>
<rect x="969.50" y="489.00" width="6.90" height="19.75" fill="#e3f4f2"/>
<rect x="582.00" y="508.75" width="61.00" height="59.25" fill="#e0f3f8"/>
<rect x="582.00" y="568.00" width="61.00" height="48.25" fill="#e3f4f2"/>
<rect x="582.00" y="616.25" width="61.00" height="44.35" fill="#e3f4f2"/>
<rect x="643.00" y="508.75" width="48.25" height="52.50" fill="#ceeaf3"/>
<rect x="643.00" y="561.25" width="48.25" height="50.75" fill="#d4edf5"/>
<rect x="643.00" y="612.00" width="48.25" height="48.60" fill="#d7eff6"/>
<rect x="691.25" y="508.75" width="43.75" height="53.25" fill="#d4edf5"/>
<rect x="691.25" y="562.00" width="43.75" height="50.50" fill="#d4edf5"/>
<rect x="691.25" y="612.50" width="43.75" height="48.10" fill="#d4edf5"/>
<rect x="735.00" y="508.75" width="46.25" height="41.75" fill="#c8e7f1"/>
<rect x="781.25" y="508.75" width="44.25" height="41.75" fill="#e0f3f8"/>
<rect x="825.50" y="508.75" width="40.50" height="41.75" fill="#daf0f6"/>
<rect x="735.00" y="550.50" width="40.00" height="40.50" fill="#daf0f6"/>
<rect x="735.00" y="591.00" width="40.00" height="35.25" fill="#d4edf5"/>
<rect x="735.00" y="626.25" width="40.00" height="34.35" fill="#daf0f6"/>
<rect x="775.00" y="550.50" width="30.75" height="39.50" fill="#ceeaf3"/>
<rect x="805.75" y="550.50" width="31.25" height="39.50" fill="#c8e7f1"/>
<rect x="837.00" y="550.50" width="29.00" height="39.50" fill="#daf0f6"/>
<rect x="775.00" y="590.00" width="29.50" height="30.00" fill="#d4edf5"/>
<rect x="804.50" y="590.00" width="32.50" height="30.00" fill="#daf0f6"/>
<rect x="837.00" y="590.00" width="29.00" height="30.00" fill="#daf0f6"/>
<rect x="775.00" y="620.00" width="29.00" height="18.75" fill="#e3f4f2"/>
<rect x="804.00" y="620.00" width="21.00" height="18.75" fill="#d4edf5"/>
<rect x="825.00" y="620.00" width="33.75" height="18.75" fill="#c8e7f1"/>
<rect x="858.75" y="620.00" width="7.25" height="18.75" fill="#daf0f6"/>
<rect x="775.00" y="638.75" width="29.00" height="21.85" fill="#e3f4f2"/>
<rect x="804.00" y="638.75" width="28.00" height="21.85" fill="#d4edf5"/>
<rect x="832.00" y="638.75" width="34.00" height="21.85" fill="#daf0f6"/>
<rect x="582.00" y="660.60" width="69.25" height="74.40" fill="#d4edf5"/>
<rect x="582.00" y="735.00" width="69.25" height="60.00" fill="#ceeaf3"/>
<rect x="651.25" y="660.60" width="65.75" height="49.40" fill="#c3e5f0"/>
<rect x="651.25" y="710.00" width="65.75" height="47.50" fill="#d4edf5"/>
<rect x="651.25" y="757.50" width="65.75" height="37.50" fill="#c8e7f1"/>
<rect x="717.00" y="660.60" width="48.75" height="44.40" fill="#c8e7f1"/>
<rect x="717.00" y="705.00" width="48.75" height="44.50" fill="#c3e5f0"/>
<rect x="717.00" y="749.50" width="48.75" height="45.50" fill="#d4edf5"/>
<rect x="765.75" y="660.60" width="36.75" height="51.15" fill="#e0f3f8"/>
<rect x="802.50" y="660.60" width="33.75" height="51.15" fill="#daf0f6"/>
<rect x="836.25" y="660.60" width="29.75" height="51.15" fill="#daf0f6"/>
<rect x="765.75" y="711.75" width="34.25" height="42.75" fill="#daf0f6"/>
<rect x="765.75" y="754.50" width="34.25" height="40.50" fill="#d4edf5"/>
<rect x="800.00" y="711.75" width="34.50" height="32.00" fill="#bde2ee"/>
<rect x="834.50" y="711.75" width="31.50" height="32.00" fill="#ceeaf3"/>
<rect x="800.00" y="743.75" width="32.00" height="31.25" fill="#c3e5f0"/>
<rect x="832.00" y="743.75" width="18.00" height="31.25" fill="#e2f4f5"/>
<rect x="850.00" y="743.75" width="16.00" height="31.25" fill="#d4edf5"/>
<rect x="800.00" y="775.00" width="32.00" height="20.00" fill="#b1dceb"/>
<rect x="832.00" y="775.00" width="26.75" height="20.00" fill="#c8e7f1"/>
<rect x="858.75" y="775.00" width="7.25" height="20.00" fill="#daf0f6"/>
<rect x="866.00" y="508.75" width="62.75" height="60.25" fill="#d7eff6"/>
<rect x="928.75" y="508.75" width="45.25" height="60.25" fill="#c8e7f1"/>
<rect x="866.00" y="569.00" width="55.00" height="46.00" fill="#d4edf5"/>
<rect x="921.00" y="569.00" width="53.00" height="46.00" fill="#ceeaf3"/>
<rect x="866.00" y="615.00" width="45.00" height="50.60" fill="#daf0f6"/>
<rect x="911.00" y="615.00" width="31.80" height="50.60" fill="#d4edf5"/>
<rect x="942.80" y="615.00" width="31.20" height="50.60" fill="#d4edf5"/>
<rect x="866.00" y="665.60" width="45.00" height="39.40" fill="#e0f3f8"/>
<rect x="911.00" y="665.60" width="34.60" height="39.40" fill="#c8e7f1"/>
<rect x="945.60" y="665.60" width="14.10" height="25.90" fill="#c8e7f1"/>
<rect x="959.70" y="665.60" width="14.30" height="25.90" fill="#e3f4f2"/>
<rect x="945.60" y="691.50" width="19.15" height="13.50" fill="#d4edf5"/>
<rect x="964.75" y="691.50" width="9.25" height="13.50" fill="#c3e5f0"/>
<rect x="974.00" y="508.75" width="93.00" height="56.00" fill="#d4edf5"/>
<rect x="974.00" y="564.75" width="93.00" height="51.25" fill="#ceeaf3"/>
<rect x="974.00" y="616.00" width="79.20" height="60.00" fill="#ceeaf3"/>
<rect x="974.00" y="676.00" width="79.20" height="29.00" fill="#daf0f6"/>
<rect x="1053.20" y="616.00" width="13.80" height="45.00" fill="#c3e5f0"/>
<rect x="1053.20" y="661.00" width="13.80" height="44.00" fill="#e0f3f8"/>
<rect x="866.00" y="705.00" width="75.00" height="47.25" fill="#e9f6e8"/>
<rect x="866.00" y="752.25" width="75.00" height="42.75" fill="#e9f6e8"/>
<rect x="941.00" y="705.00" width="38.00" height="47.25" fill="#e2f4f5"/>
<rect x="941.00" y="752.25" width="38.00" height="42.75" fill="#ddf2f7"/>
<rect x="979.00" y="705.00" width="50.00" height="62.00" fill="#daf0f6"/>
<rect x="1029.00" y="705.00" width="38.00" height="62.00" fill="#ddf2f7"/>
<rect x="979.00" y="767.00" width="66.00" height="28.00" fill="#a5d4e6"/>
<rect x="1045.00" y="767.00" width="22.00" height="28.00" fill="#daf0f6"/>
<rect x="1067.00" y="86.00" width="97.60" height="95.50" fill="#d4edf5"/>
<rect x="1067.00" y="181.50" width="97.60" height="62.25" fill="#d4edf5"/>
<rect x="1067.00" y="243.75" width="97.60" height="50.00" fill="#ceeaf3"/>
<rect x="1164.60" y="86.00" width="78.10" height="55.50" fill="#d4edf5"/>
<rect x="1242.70" y="86.00" width="63.55" height="55.50" fill="#d7eff6"/>
<rect x="1164.60" y="141.50" width="51.40" height="62.90" fill="#e3f4f2"/>
<rect x="1216.00" y="141.50" width="44.80" height="62.90" fill="#c8e7f1"/>
<rect x="1260.80" y="141.50" width="45.45" height="62.90" fill="#e3f4f2"/>
<rect x="1164.60" y="204.40" width="55.20" height="48.60" fill="#ceeaf3"/>
<rect x="1164.60" y="253.00" width="55.20" height="40.75" fill="#bde2ee"/>
<rect x="1219.80" y="204.40" width="31.20" height="43.10" fill="#c3e5f0"/>
<rect x="1251.00" y="204.40" width="29.20" height="43.10" fill="#daf0f6"/>
<rect x="1280.20" y="204.40" width="26.05" height="43.10" fill="#ceeaf3"/>
<rect x="1219.80" y="247.50" width="34.80" height="29.20" fill="#d4edf5"/>
<rect x="1219.80" y="276.70" width="34.80" height="17.05" fill="#d4edf5"/>
<rect x="1254.60" y="247.50" width="27.10" height="22.90" fill="#a5d4e6"/>
<rect x="1254.60" y="270.40" width="27.10" height="23.35" fill="#ceeaf3"/>
<rect x="1281.70" y="247.50" width="24.55" height="20.80" fill="#e0f3f8"/>
<rect x="1281.70" y="268.30" width="24.55" height="20.20" fill="#c8e7f1"/>
<rect x="1281.70" y="288.50" width="24.55" height="5.25" fill="#c8e7f1"/>
<rect x="1067.00" y="293.75" width="60.50" height="67.05" fill="#d4edf5"/>
<rect x="1127.50" y="293.75" width="59.50" height="67.05" fill="#d7eff6"/>
<rect x="1067.00" y="360.80" width="65.70" height="57.95" fill="#d7eff6"/>
<rect x="1067.00" y="418.75" width="65.70" height="53.15" fill="#c3e5f0"/>
<rect x="1132.70" y="360.80" width="54.30" height="62.50" fill="#ceeaf3"/>
<rect x="1132.70" y="423.30" width="27.70" height="48.60" fill="#ceeaf3"/>
<rect x="1160.40" y="423.30" width="26.60" height="48.60" fill="#c8e7f1"/>
<rect x="1187.00" y="293.75" width="58.80" height="69.25" fill="#e0f3f8"/>
<rect x="1245.80" y="293.75" width="60.45" height="69.25" fill="#c8e7f1"/>
<rect x="1187.00" y="363.00" width="46.00" height="55.00" fill="#daf0f6"/>
<rect x="1233.00" y="363.00" width="44.00" height="55.00" fill="#ceeaf3"/>
<rect x="1277.00" y="363.00" width="29.25" height="55.00" fill="#b7dfec"/>
<rect x="1187.00" y="418.00" width="46.75" height="53.90" fill="#e2f4f5"/>
<rect x="1233.75" y="418.00" width="53.75" height="28.70" fill="#c8e7f1"/>
<rect x="1233.75" y="446.70" width="53.75" height="25.20" fill="#ceeaf3"/>
<rect x="1287.50" y="418.00" width="18.75" height="26.80" fill="#e3f4f2"/>
<rect x="1287.50" y="444.80" width="18.75" height="13.95" fill="#e7f6eb"/>
<rect x="1287.50" y="458.75" width="9.40" height="13.15" fill="#daf0f6"/>
<rect x="1296.90" y="458.75" width="9.35" height="13.15" fill="#bde2ee"/>
<rect x="1067.00" y="471.90" width="70.00" height="84.35" fill="#d4edf5"/>
<rect x="1067.00" y="556.25" width="70.00" height="55.75" fill="#ceeaf3"/>
<rect x="1137.00" y="471.90" width="53.00" height="84.35" fill="#ddf2f7"/>
<rect x="1137.00" y="556.25" width="53.00" height="55.75" fill="#daf0f6"/>
<rect x="1190.00" y="471.90" width="43.75" height="50.60" fill="#ceeaf3"/>
<rect x="1233.75" y="471.90" width="40.25" height="50.60" fill="#cbe9f2"/>
<rect x="1274.00" y="471.90" width="32.25" height="50.60" fill="#bde2ee"/>
<rect x="1190.00" y="522.50" width="34.60" height="46.25" fill="#bde2ee"/>
<rect x="1190.00" y="568.75" width="34.60" height="43.25" fill="#ceeaf3"/>
<rect x="1224.60" y="522.50" width="40.00" height="30.50" fill="#ceeaf3"/>
<rect x="1264.60" y="522.50" width="41.65" height="30.50" fill="#d4edf5"/>
<rect x="1224.60" y="553.00" width="29.15" height="33.00" fill="#daf0f6"/>
<rect x="1224.60" y="586.00" width="29.15" height="26.00" fill="#c3e5f0"/>
<rect x="1253.75" y="553.00" width="27.95" height="25.30" fill="#e0f3f8"/>
<rect x="1281.70" y="553.00" width="24.55" height="25.30" fill="#daf0f6"/>
<rect x="1253.75" y="578.30" width="26.45" height="19.20" fill="#daf0f6"/>
<rect x="1280.20" y="578.30" width="18.80" height="19.20" fill="#daf0f6"/>
<rect x="1299.00" y="578.30" width="7.25" height="19.20" fill="#c8e7f1"/>
<rect x="1253.75" y="597.50" width="26.45" height="14.50" fill="#e0f3f8"/>
<rect x="1280.20" y="597.50" width="7.30" height="14.50" fill="#c8e7f1"/>
<rect x="1287.50" y="597.50" width="9.40" height="14.50" fill="#d4edf5"/>
<rect x="1296.90" y="597.50" width="9.35" height="14.50" fill="#b7dfec"/>
<rect x="1067.00" y="612.00" width="75.70" height="62.40" fill="#daf0f6"/>
<rect x="1067.00" y="674.40" width="75.70" height="51.10" fill="#daf0f6"/>
<rect x="1142.70" y="612.00" width="43.80" height="79.70" fill="#d1ecf4"/>
<rect x="1142.70" y="691.70" width="43.80" height="33.80" fill="#d4edf5"/>
<rect x="1186.50" y="612.00" width="38.50" height="79.70" fill="#e9f6e8"/>
<rect x="1186.50" y="691.70" width="38.50" height="33.80" fill="#e0f3f8"/>
<rect x="1225.00" y="612.00" width="47.00" height="73.00" fill="#d4edf5"/>
<rect x="1272.00" y="612.00" width="34.25" height="73.00" fill="#daf0f6"/>
<rect x="1225.00" y="685.00" width="56.00" height="25.00" fill="#daf0f6"/>
<rect x="1281.00" y="685.00" width="25.25" height="25.00" fill="#e0f3f8"/>
<rect x="1225.00" y="710.00" width="30.80" height="52.30" fill="#e9f6e8"/>
<rect x="1255.80" y="710.00" width="50.45" height="52.30" fill="#e5f5ee"/>
<rect x="1225.00" y="762.30" width="58.00" height="32.70" fill="#daf0f6"/>
<rect x="1283.00" y="762.30" width="23.25" height="32.70" fill="#daf0f6"/>
<rect x="1067.00" y="725.50" width="43.80" height="69.50" fill="#ceeaf3"/>
<rect x="1110.80" y="725.50" width="61.10" height="69.50" fill="#e7f6eb"/>
<rect x="1171.90" y="725.50" width="30.10" height="53.25" fill="#e7f6eb"/>
<rect x="1202.00" y="725.50" width="23.00" height="53.25" fill="#e0f3f8"/>
<rect x="1171.90" y="778.75" width="53.10" height="16.25" fill="#d4edf5"/>
</g>
<g text-anchor="middle">
<text x="81.50" y="138.75" font-size="16.65" fill="#000">D'LEEDON</text>
<text x="391.16" y="139.84" font-size="28.84" fill="#000">THE</text>
<text x="390.43" y="181.75" font-size="28.84" fill="#000">CREST</text>
<text x="551.01" y="180.14" font-size="12.92" fill="#000">TANGLIN</text>
<text x="550.63" y="198.75" font-size="12.92" fill="#000">VIEW</text>
<text x="615.47" y="183.74" font-size="16.34" fill="#000">COSTA</text>
<text x="615.47" y="208.37" font-size="16.34" fill="#000">DEL</text>
<text x="615.76" y="233.00" font-size="16.34" fill="#000">SOL</text>
<text x="683.49" y="175.44" font-size="13.36" fill="#000">VACANZA</text>
<text x="683.10" y="195.50" font-size="13.36" fill="#000">@ EAST</text>
<text x="1021.30" y="109.77" font-size="16.74" fill="#000">MELVILLE</text>
<text x="1021.07" y="134.50" font-size="16.74" fill="#000">PARK</text>
<text x="1021.23" y="178.25" font-size="13.27" fill="#000">WATERVIEW</text>
<text x="1115.68" y="127.06" font-size="23.35" fill="#000">THE</text>
<text x="1115.46" y="159.60" font-size="23.35" fill="#000">MINTON</text>
<text x="1273.54" y="107.01" font-size="19.93" fill="#000">PARC</text>
<text x="1273.93" y="137.70" font-size="19.93" fill="#000">VERA</text>
<text x="1189.76" y="168.28" font-size="14.95" fill="#000">RIO</text>
<text x="1189.97" y="192.00" font-size="14.95" fill="#000">VISTA</text>
<text x="1115.71" y="219.60" font-size="14.35" fill="#000">RIVERSAILS</text>
<text x="1115.89" y="264.10" font-size="18.02" fill="#000">KOVAN</text>
<text x="1115.36" y="289.20" font-size="18.02" fill="#000">MELODY</text>
<text x="457.85" y="356.44" font-size="20.70" fill="#fff">NEW</text>
<text x="457.82" y="387.00" font-size="20.70" fill="#fff">FUTURA</text>
<text x="276.37" y="355.66" font-size="14.77" fill="#000">SKY</text>
<text x="276.10" y="376.50" font-size="14.77" fill="#000">HABITAT</text>
<text x="276.60" y="426.64" font-size="20.55" fill="#000">SKY</text>
<text x="277.22" y="461.60" font-size="20.55" fill="#000">VUE</text>
<text x="74.88" y="482.58" font-size="20.11" fill="#000">COSTA</text>
<text x="75.34" y="511.25" font-size="20.11" fill="#000">RHU</text>
<text x="108.08" y="631.80" font-size="13.66" fill="#000">CYAN</text>
<text x="116.81" y="680.29" font-size="12.77" fill="#000">CUBE</text>
<text x="116.83" y="699.60" font-size="12.77" fill="#000">8</text>
<text x="266.29" y="612.94" font-size="13.73" fill="#000">THE</text>
<text x="265.62" y="632.00" font-size="13.73" fill="#000">ESTA</text>
<text x="276.31" y="666.12" font-size="13.84" fill="#000">BARTLEY</text>
<text x="276.44" y="684.70" font-size="13.84" fill="#000">RIDGE</text>
<text x="411.43" y="505.60" font-size="15.98" fill="#000">QUEENS</text>
<text x="407.04" y="669.70" font-size="13.00" fill="#000">HILLTOPS</text>
<text x="628.34" y="338.03" font-size="18.94" fill="#000">THE</text>
<text x="627.79" y="365.00" font-size="18.94" fill="#000">PALETTE</text>
<text x="706.75" y="336.17" font-size="19.87" fill="#000">RIPPLE</text>
<text x="706.55" y="362.50" font-size="19.87" fill="#000">BAY</text>
<text x="625.70" y="427.00" font-size="22.63" fill="#000">D'NEST</text>
<text x="625.15" y="493.00" font-size="27.91" fill="#000">LIVIA</text>
<text x="780.68" y="331.32" font-size="15.72" fill="#000">PARC</text>
<text x="780.66" y="355.00" font-size="15.72" fill="#000">OLYMPIA</text>
<text x="779.90" y="386.43" font-size="20.24" fill="#000">SEA</text>
<text x="779.57" y="412.50" font-size="20.24" fill="#000">ESTA</text>
<text x="780.53" y="436.33" font-size="15.74" fill="#000">THE</text>
<text x="779.70" y="459.50" font-size="15.74" fill="#000">INFLORA</text>
<text x="949.51" y="321.78" font-size="13.49" fill="#000">OASIS</text>
<text x="949.53" y="341.89" font-size="13.49" fill="#000">@</text>
<text x="949.26" y="362.00" font-size="13.49" fill="#000">ELIAS</text>
<text x="611.75" y="632.82" font-size="15.00" fill="#000">GUILIN</text>
<text x="611.51" y="657.50" font-size="15.00" fill="#000">VIEW</text>
<text x="616.24" y="693.10" font-size="13.60" fill="#000">BLUE</text>
<text x="616.51" y="715.00" font-size="13.60" fill="#000">HORIZON</text>
<text x="684.63" y="771.85" font-size="12.86" fill="#000">THE</text>
<text x="684.98" y="792.00" font-size="12.86" fill="#000">VISION</text>
<text x="897.03" y="534.54" font-size="16.04" fill="#000">TREE</text>
<text x="896.54" y="558.75" font-size="16.04" fill="#000">HOUSE</text>
<text x="1020.59" y="533.43" font-size="13.71" fill="#000">THE</text>
<text x="1020.20" y="554.00" font-size="13.71" fill="#000">LAKESHORE</text>
<text x="1014.25" y="654.00" font-size="16.43" fill="#000">CASPIAN</text>
<text x="1100.11" y="440.84" font-size="17.94" fill="#000">LA</text>
<text x="1100.09" y="465.60" font-size="17.94" fill="#000">FIESTA</text>
<text x="1163.08" y="509.37" font-size="15.80" fill="#000">RIVER</text>
<text x="1162.99" y="532.00" font-size="15.80" fill="#000">ISLES</text>
<text x="1101.84" y="579.79" font-size="12.78" fill="#000">PARC</text>
<text x="1102.09" y="599.60" font-size="12.78" fill="#000">CENTROS</text>
</g>
<g fill="none" stroke="#000" stroke-width="3.75">
<rect x="37.00" y="86.00" width="289.00" height="229.80"/>
<rect x="326.00" y="86.00" width="256.00" height="230.00"/>
<rect x="37.00" y="315.70" width="206.00" height="203.30"/>
<rect x="243.00" y="316.00" width="170.00" height="152.00"/>
<rect x="413.00" y="316.00" width="169.00" height="152.00"/>
<rect x="37.00" y="519.00" width="206.00" height="141.00"/>
<rect x="37.00" y="660.00" width="206.00" height="135.00"/>
<rect x="243.00" y="468.00" width="130.00" height="166.00"/>
<rect x="373.00" y="468.00" width="112.00" height="160.00"/>
<rect x="485.00" y="468.00" width="97.00" height="160.00"/>
<rect x="243.00" y="634.00" width="130.00" height="161.00"/>
<rect x="373.00" y="628.00" width="129.00" height="117.00"/>
<rect x="373.00" y="745.00" width="129.00" height="50.00"/>
<rect x="502.00" y="628.00" width="80.00" height="59.70"/>
<rect x="502.00" y="687.70" width="59.50" height="79.30"/>
<rect x="561.50" y="687.70" width="20.50" height="79.30"/>
<rect x="502.00" y="767.00" width="40.00" height="28.00"/>
<rect x="542.00" y="767.00" width="31.60" height="28.00"/>
<rect x="573.60" y="767.00" width="8.40" height="28.00"/>
<rect x="582.00" y="86.00" width="394.40" height="219.60"/>
<rect x="976.40" y="86.00" width="90.60" height="422.75"/>
<rect x="582.00" y="305.60" width="394.40" height="203.15"/>
<rect x="582.00" y="508.75" width="284.00" height="151.85"/>
<rect x="582.00" y="660.60" width="284.00" height="134.40"/>
<rect x="866.00" y="508.75" width="108.00" height="196.25"/>
<rect x="974.00" y="508.75" width="93.00" height="196.25"/>
<rect x="866.00" y="705.00" width="113.00" height="90.00"/>
<rect x="979.00" y="705.00" width="88.00" height="90.00"/>
<rect x="1067.00" y="86.00" width="239.25" height="207.75"/>
<rect x="1067.00" y="293.75" width="120.00" height="178.15"/>
<rect x="1187.00" y="293.75" width="119.25" height="178.15"/>
<rect x="1067.00" y="471.90" width="123.00" height="140.10"/>
<rect x="1190.00" y="471.90" width="116.25" height="140.10"/>
<rect x="1067.00" y="612.00" width="158.00" height="113.50"/>
<rect x="1225.00" y="612.00" width="81.25" height="98.00"/>
<rect x="1225.00" y="710.00" width="81.25" height="52.30"/>
<rect x="1225.00" y="762.30" width="81.25" height="32.70"/>
<rect x="1067.00" y="725.50" width="158.00" height="69.50"/>
</g>
<g fill="none" stroke="#000" stroke-width="7.8">
<rect x="37.00" y="86.00" width="545.00" height="709.00" stroke-linejoin="round"/>
<rect x="582.00" y="86.00" width="485.00" height="422.75"/>
<rect x="582.00" y="508.75" width="485.00" height="286.25"/>
<rect x="1067.00" y="86.00" width="239.25" height="526.00"/>
<rect x="1067.00" y="612.00" width="239.25" height="183.00"/>
</g>
<g text-anchor="middle">
<rect x="104.25" y="186.75" width="154.50" height="27.75" fill="#cccccc" fill-opacity="0.86"/>
<text x="181.39" y="212.50" font-size="29.68">Bukit Timah</text>
<rect x="378.00" y="186.25" width="152.50" height="28.25" fill="#cccccc" fill-opacity="0.86"/>
<text x="453.92" y="212.50" font-size="28.76">Bukit Merah</text>
<rect x="92.50" y="403.25" width="96.25" height="28.00" fill="#cccccc" fill-opacity="0.86"/>
<text x="140.17" y="428.75" font-size="29.23">Kallang</text>
<rect x="284.00" y="377.20" width="88.80" height="29.30" fill="#cccccc" fill-opacity="0.86"/>
<text x="327.27" y="403.10" font-size="29.38">Bishan</text>
<rect x="420.60" y="377.20" width="153.40" height="29.30" fill="#cccccc" fill-opacity="0.86"/>
<text x="496.10" y="403.50" font-size="29.02">River Valley</text>
<rect x="91.80" y="575.40" width="96.95" height="28.30" fill="#cccccc" fill-opacity="0.86"/>
<text x="140.29" y="601.25" font-size="30.39">Tanglin</text>
<rect x="91.25" y="713.10" width="97.50" height="28.50" fill="#cccccc" fill-opacity="0.86"/>
<text x="138.69" y="738.40" font-size="28.29">Novena</text>
<rect x="262.25" y="514.00" width="93.00" height="73.75" fill="#cccccc" fill-opacity="0.86"/>
<text x="307.79" y="541.69" font-size="29.34">Marine</text>
<text x="307.76" y="583.40" font-size="29.34">Parade</text>
<rect x="378.75" y="539.40" width="101.25" height="18.35" fill="#cccccc" fill-opacity="0.86"/>
<text x="428.80" y="555.30" font-size="18.12">Queenstown</text>
<rect x="487.50" y="536.60" width="90.90" height="22.40" fill="#cccccc" fill-opacity="0.86"/>
<text x="532.68" y="557.20" font-size="24.43">Geylang</text>
<rect x="268.00" y="678.00" width="79.75" height="72.30" fill="#cccccc" fill-opacity="0.86"/>
<text x="307.75" y="703.32" font-size="28.44">Toa</text>
<text x="307.79" y="746.00" font-size="28.44">Payoh</text>
<rect x="389.00" y="672.00" width="98.00" height="28.60" fill="#cccccc" fill-opacity="0.86"/>
<text x="437.92" y="697.25" font-size="29.04">Newton</text>
<rect x="397.00" y="747.00" width="82.40" height="44.00" fill="#cccccc" fill-opacity="0.86"/>
<text x="438.24" y="764.47" font-size="17.83">Singapore</text>
<text x="437.70" y="789.70" font-size="17.83">River</text>
<rect x="504.40" y="646.25" width="74.00" height="23.45" fill="#cccccc" fill-opacity="0.86"/>
<text x="540.69" y="666.90" font-size="23.10">Rochor</text>
<rect x="503.40" y="710.00" width="57.60" height="35.25" fill="#cccccc" fill-opacity="0.86"/>
<text x="532.46" y="724.03" font-size="14.14">Southern</text>
<text x="531.93" y="743.75" font-size="14.14">Islands</text>
<rect x="738.00" y="181.25" width="80.75" height="28.25" fill="#cccccc" fill-opacity="0.86"/>
<text x="777.63" y="207.50" font-size="28.13">Bedok</text>
<rect x="979.50" y="287.50" width="83.75" height="19.50" fill="#cccccc" fill-opacity="0.86"/>
<text x="1022.02" y="305.75" font-size="19.23">Tampines</text>
<rect x="720.00" y="393.00" width="118.00" height="28.25" fill="#cccccc" fill-opacity="0.86"/>
<text x="778.46" y="419.50" font-size="29.79">Pasir Ris</text>
<rect x="651.25" y="570.00" width="145.00" height="28.25" fill="#cccccc" fill-opacity="0.86"/>
<text x="722.58" y="596.25" font-size="28.61">Bukit Batok</text>
<rect x="666.25" y="713.25" width="115.75" height="28.50" fill="#cccccc" fill-opacity="0.86"/>
<text x="724.36" y="739.25" font-size="29.57">Clementi</text>
<rect x="867.80" y="570.00" width="104.45" height="71.60" fill="#cccccc" fill-opacity="0.86"/>
<text x="918.53" y="597.86" font-size="28.28">Bukit</text>
<text x="919.34" y="636.00" font-size="28.28">Panjang</text>
<rect x="977.50" y="571.90" width="85.30" height="70.30" fill="#cccccc" fill-opacity="0.86"/>
<text x="1021.18" y="597.57" font-size="27.87">Jurong</text>
<text x="1020.52" y="638.40" font-size="27.87">West</text>
<rect x="871.00" y="720.40" width="101.80" height="58.10" fill="#cccccc" fill-opacity="0.86"/>
<text x="922.38" y="742.31" font-size="22.84">Choa Chu</text>
<text x="922.01" y="776.60" font-size="22.84">Kang</text>
<rect x="982.20" y="716.25" width="80.60" height="67.85" fill="#cccccc" fill-opacity="0.86"/>
<text x="1023.03" y="740.20" font-size="26.61">Jurong</text>
<text x="1021.34" y="779.60" font-size="26.61">East</text>
<rect x="1128.10" y="175.80" width="116.70" height="28.60" fill="#cccccc" fill-opacity="0.86"/>
<text x="1185.49" y="201.25" font-size="29.11">Hougang</text>
<rect x="1070.80" y="371.25" width="112.50" height="24.55" fill="#cccccc" fill-opacity="0.86"/>
<text x="1127.14" y="393.10" font-size="25.21">Sengkang</text>
<rect x="1196.90" y="347.30" width="98.50" height="71.90" fill="#cccccc" fill-opacity="0.86"/>
<text x="1247.25" y="372.52" font-size="27.65">Ang Mo</text>
<text x="1246.13" y="416.00" font-size="27.65">Kio</text>
<rect x="1076.00" y="528.30" width="106.30" height="27.95" fill="#cccccc" fill-opacity="0.86"/>
<text x="1129.45" y="553.30" font-size="29.26">Punggol</text>
<rect x="1194.80" y="531.25" width="106.20" height="22.50" fill="#cccccc" fill-opacity="0.86"/>
<text x="1248.15" y="551.25" font-size="21.80">Serangoon</text>
<rect x="1101.70" y="654.20" width="88.90" height="29.10" fill="#cccccc" fill-opacity="0.86"/>
<text x="1145.85" y="680.20" font-size="29.52">Yishun</text>
<rect x="1227.00" y="654.60" width="75.50" height="15.20" fill="#cccccc" fill-opacity="0.86"/>
<text x="1265.23" y="667.70" font-size="13.72">Sembawang</text>
<rect x="1229.60" y="726.00" width="72.90" height="20.90" fill="#cccccc" fill-opacity="0.86"/>
<text x="1266.46" y="744.20" font-size="19.13">YISHUN</text>
<rect x="1228.75" y="766.70" width="73.75" height="23.30" fill="#cccccc" fill-opacity="0.86"/>
<text x="1265.43" y="787.50" font-size="22.58">Mandai</text>
<rect x="1071.90" y="745.20" width="148.50" height="29.40" fill="#cccccc" fill-opacity="0.86"/>
<text x="1146.46" y="770.80" font-size="29.41">Woodlands</text>
<rect x="206.40" y="425.00" width="205.90" height="28.60" fill="#cccccc" fill-opacity="0.86"/>
<text x="309.77" y="451.40" font-size="28.97" font-weight="bold">Central Region</text>
<rect x="740.00" y="282.50" width="168.00" height="28.75" fill="#cccccc" fill-opacity="0.86"/>
<text x="824.04" y="308.00" font-size="29.05" font-weight="bold">East Region</text>
<rect x="735.75" y="637.00" width="175.75" height="29.25" fill="#cccccc" fill-opacity="0.86"/>
<text x="824.41" y="662.50" font-size="28.95" font-weight="bold">West Region</text>
<rect x="1113.00" y="312.50" width="147.00" height="72.50" fill="#cccccc" fill-opacity="0.86"/>
<text x="1185.12" y="339.80" font-size="29.08" font-weight="bold">North East</text>
<text x="1185.81" y="381.25" font-size="29.08" font-weight="bold">Region</text>
<rect x="1093.75" y="689.20" width="185.45" height="28.50" fill="#cccccc" fill-opacity="0.86"/>
<text x="1185.86" y="714.20" font-size="29.36" font-weight="bold">North Region</text>
</g>
<text x="672.5" y="66.9" text-anchor="middle" font-size="36.88">Resale Condominium by Planning Region and Area, 2017</text>
<g stroke="#000" stroke-width="1.6">
<rect x="64.00" y="846.00" width="135.06" height="20.00" fill="#eef8df"/>
<rect x="199.06" y="846.00" width="135.06" height="20.00" fill="#daf0f6"/>
<rect x="334.11" y="846.00" width="135.06" height="20.00" fill="#bde2ee"/>
<rect x="469.17" y="846.00" width="135.06" height="20.00" fill="#9fcfe4"/>
<rect x="604.22" y="846.00" width="135.06" height="20.00" fill="#80b7d6"/>
<rect x="739.28" y="846.00" width="135.06" height="20.00" fill="#649ac7"/>
<rect x="874.33" y="846.00" width="135.06" height="20.00" fill="#4a7bb7"/>
<rect x="1009.39" y="846.00" width="135.06" height="20.00" fill="#3c59a6"/>
<rect x="1144.44" y="846.00" width="135.06" height="20.00" fill="#313695"/>
</g>
<g text-anchor="middle" font-size="24.09">
<text x="131.53" y="891">5000</text>
<text x="266.58" y="891">10000</text>
<text x="401.64" y="891">15000</text>
<text x="536.69" y="891">20000</text>
<text x="671.75" y="891">25000</text>
<text x="806.81" y="891">30000</text>
<text x="941.86" y="891">35000</text>
<text x="1076.92" y="891">40000</text>
<text x="1211.97" y="891">45000</text>
</g>
<text x="671.9" y="931.7" text-anchor="middle" font-size="31.95">Median Unit Price (S$ per sq. m)</text>
</svg>
</body></html>
